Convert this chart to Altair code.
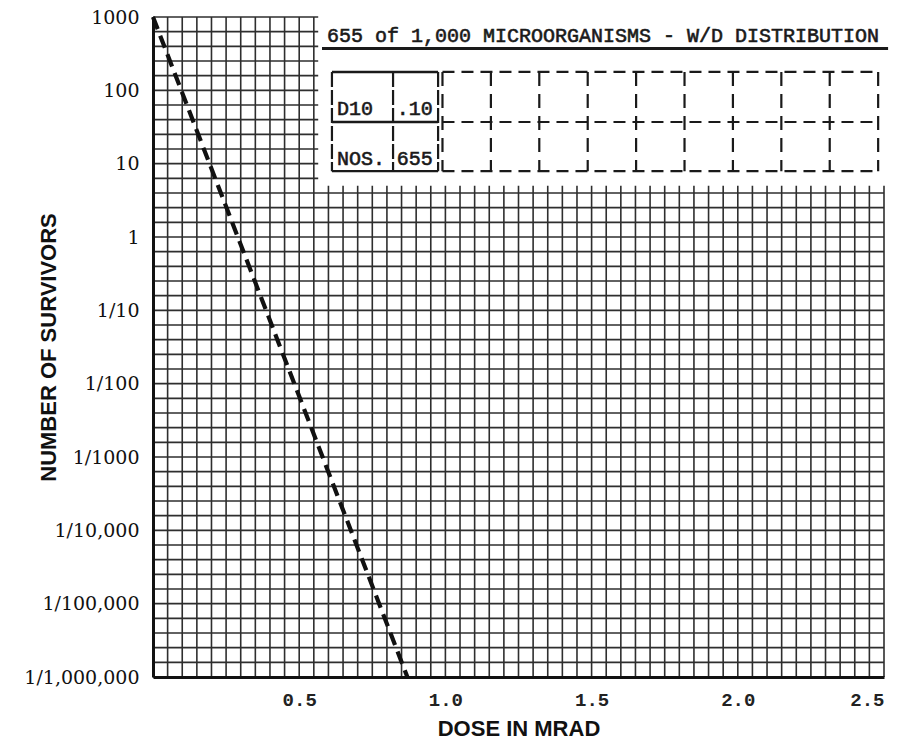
import json
import altair as alt
import numpy as np
import pandas as pd

# ---------------- data ----------------
dose = [0.0, 0.87]                 # Mrad
survivors = [1000.0, 0.000001]     # number of survivors

x_tick_values = [0.5, 1.0, 1.5, 2.0, 2.5]
y_tick_values = [1e-6, 1e-5, 1e-4, 1e-3, 1e-2, 1e-1, 1, 10, 100, 1000]
y_tick_labels = ["1/1,000,000", "1/100,000", "1/10,000", "1/1000", "1/100",
                 "1/10", "1", "10", "100", "1000"]

box_title = "655 of 1,000 MICROORGANISMS - W/D DISTRIBUTION"
table_text = ["D10", ".10", "NOS.", "655"]

# annotation layout (data units: dose, survivors)
box_x = [0.565, 2.52]
box_y = [5.0, 1300.0]
title_pos = (0.595, 456.0)
underline_x = [0.578, 2.514]
underline_y = 372.0
table_rows_y = [178.0, 37.0, 7.9]             # top, middle, bottom lines
table_solid_x = [0.612, 0.821, 0.975]         # solid (typed) column lines
table_dashed_x = list(np.round(np.linspace(0.99, 2.48, 10), 4))
table_text_x = [0.629, 0.834, 0.629, 0.834]
table_text_y = [46.0, 46.0, 9.6, 9.6]

# graph-paper grid
grid_x = list(np.round(np.arange(0, 2.5001, 0.05), 4))
grid_y = list(10 ** np.round(np.arange(-6, 3.0001, 0.2), 4))

# ---------------- scales / axes ----------------
xs = alt.Scale(domain=[0, 2.5], nice=False, zero=False)
ys = alt.Scale(type="log", domain=[1e-6, 1000], nice=False)

label_expr = json.dumps(y_tick_labels) + "[round(log(datum.value)/LN10)+6]"

xaxis = alt.Axis(
    values=x_tick_values, format=".1f", grid=False, ticks=False, tickSize=0,
    domainColor="#111", domainWidth=3, zindex=1,
    labelFont="Liberation Mono", labelFontSize=19, labelColor="#222",
    labelFontWeight="bold",
    labelBaseline="alphabetic", labelPadding=28,
    title="DOSE IN MRAD", titleFont="Liberation Sans", titleFontSize=22,
    titleFontWeight="bold", titleColor="#111", titleY=58,
    titleBaseline="alphabetic",
)
yaxis = alt.Axis(
    values=y_tick_values, labelExpr=label_expr, grid=False, ticks=False,
    tickSize=0, domainColor="#111", domainWidth=3, zindex=1,
    labelFont="DejaVu Serif", labelFontSize=19, labelColor="#111",
    labelPadding=14, labelBaseline="middle",
    title="NUMBER OF SURVIVORS", titleFont="Liberation Sans", titleFontSize=22,
    titleFontWeight="bold", titleColor="#111", titleAngle=-90,
    titleX=-98, titleY=330, titleAlign="center", titleBaseline="alphabetic",
)

X = lambda f: alt.X(f, type="quantitative", scale=xs, axis=xaxis)
Y = lambda f: alt.Y(f, type="quantitative", scale=ys, axis=yaxis)

# ---------------- layers ----------------
vgrid = alt.Chart(pd.DataFrame({"gx": grid_x})).mark_rule(
    color="#2e2e2e", strokeWidth=1.6
).encode(x=X("gx"))

hgrid = alt.Chart(pd.DataFrame({"gy": grid_y})).mark_rule(
    color="#2e2e2e", strokeWidth=1.6
).encode(y=Y("gy"))

box = alt.Chart(pd.DataFrame({"x1": [box_x[0]], "x2": [box_x[1]],
                              "y1": [box_y[0]], "y2": [box_y[1]]})).mark_rect(
    color="white", opacity=1
).encode(x=X("x1"), x2="x2", y=Y("y1"), y2="y2")

title_df = pd.DataFrame({"x": [title_pos[0]], "y": [title_pos[1]], "t": [box_title]})
title_layer = alt.Chart(title_df).mark_text(
    font="Liberation Mono", fontSize=20, align="left", baseline="alphabetic",
    color="#1a1a1a", stroke="#1a1a1a", strokeWidth=0.6
).encode(x=X("x"), y=Y("y"), text="t:N")

underline = alt.Chart(pd.DataFrame({"x1": [underline_x[0]], "x2": [underline_x[1]],
                                    "y": [underline_y]})).mark_rule(
    color="#1a1a1a", strokeWidth=2.8
).encode(x=X("x1"), x2="x2", y=Y("y"))

# solid horizontal lines of the typed part of the table
solid_h = pd.DataFrame({"x1": [table_solid_x[0]] * 3, "x2": [table_solid_x[-1]] * 3,
                        "y": table_rows_y})
solid_h_layer = alt.Chart(solid_h).mark_rule(color="#1a1a1a", strokeWidth=2.4).encode(
    x=X("x1"), x2="x2", y=Y("y"))

solid_v = pd.DataFrame({"x": table_solid_x, "y1": [table_rows_y[0]] * 3,
                        "y2": [table_rows_y[-1]] * 3})
solid_v_layer = alt.Chart(solid_v).mark_rule(
    color="#1a1a1a", strokeWidth=2.2, strokeDash=[15, 3]
).encode(x=X("x"), y=Y("y1"), y2="y2")

dash_h = pd.DataFrame({"x1": [table_dashed_x[0]] * 3, "x2": [table_dashed_x[-1]] * 3,
                       "y": table_rows_y})
dash_h_layer = alt.Chart(dash_h).mark_rule(
    color="#1a1a1a", strokeWidth=2.2, strokeDash=[12, 7]
).encode(x=X("x1"), x2="x2", y=Y("y"))

dash_v = pd.DataFrame({"x": table_dashed_x,
                       "y1": [table_rows_y[0]] * len(table_dashed_x),
                       "y2": [table_rows_y[-1]] * len(table_dashed_x)})
dash_v_layer = alt.Chart(dash_v).mark_rule(
    color="#1a1a1a", strokeWidth=2.2, strokeDash=[14, 8]
).encode(x=X("x"), y=Y("y1"), y2="y2")

table_df = pd.DataFrame({"x": table_text_x, "y": table_text_y, "t": table_text})
table_layer = alt.Chart(table_df).mark_text(
    font="Liberation Mono", fontSize=20, align="left", baseline="alphabetic",
    color="#1a1a1a", stroke="#1a1a1a", strokeWidth=0.6
).encode(x=X("x"), y=Y("y"), text="t:N")

curve = alt.Chart(pd.DataFrame({"dose": dose, "survivors": survivors})).mark_line(
    color="#111", strokeWidth=4.2, strokeDash=[13, 7]
).encode(x=X("dose"), y=Y("survivors"))

chart = alt.layer(
    vgrid, hgrid, box, title_layer, underline,
    solid_h_layer, solid_v_layer, dash_h_layer, dash_v_layer, table_layer, curve
).properties(
    width=731, height=660,
    autosize=alt.AutoSizeParams(type="none"),
    padding={"left": 153, "top": 17, "right": 15, "bottom": 63},
    background="white",
).configure_view(stroke=None)

chart.save("out.html", embed_options={"renderer": "svg", "actions": False})
